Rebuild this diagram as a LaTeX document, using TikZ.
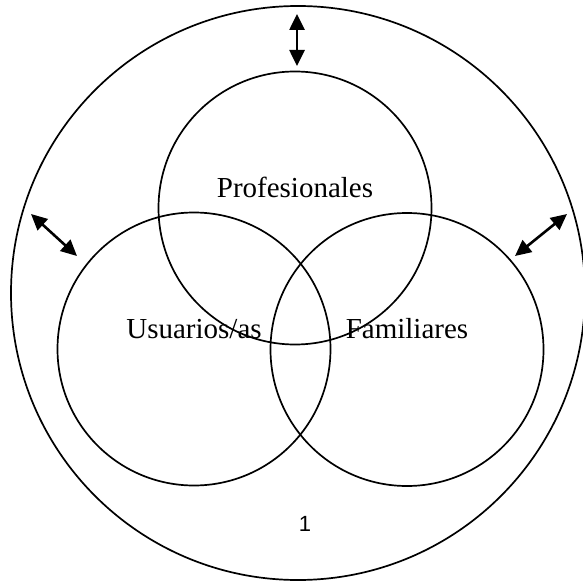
\documentclass[tikz,border=0pt]{standalone}
\usepackage{fontspec}
\setmainfont{Liberation Serif}
\newfontfamily\numfont{Liberation Sans}
\usetikzlibrary{arrows.meta}
\begin{document}
\begin{tikzpicture}[x=1pt,y=-1pt,
  ring/.style={draw=black,line width=1.7pt},
  biarrow/.style={line width=2.6pt,{Triangle[length=16pt,width=15pt]}-{Triangle[length=16pt,width=15pt]}},
  lbl/.style={anchor=base,inner sep=0pt,font=\fontsize{29}{32}\selectfont},
  numlbl/.style={anchor=base,inner sep=0pt,font=\numfont\fontsize{22}{24}\selectfont}]
\useasboundingbox (0,0) rectangle (582,585);
\draw[ring] (298,293) circle[radius=287];
\draw[ring] (295,208) circle[radius=136.5];
\draw[ring] (194,349) circle[radius=136.5];
\draw[ring] (407,349.5) circle[radius=136.5];
\node[lbl] (prof) at (295,197) {Profesionales};
\node[lbl] (usu) at (194,338) {Usuarios/as};
\node[lbl] (fam) at (407,338) {Familiares};
\node[numlbl] (one) at (305,531) {1};
\coordinate (t1) at (297,14);
\coordinate (t2) at (297,66);
\coordinate (l1) at (31,214);
\coordinate (l2) at (77,256);
\coordinate (r1) at (515,256);
\coordinate (r2) at (567,214);
\draw[biarrow] (t1) -- (t2);
\draw[biarrow] (l1) -- (l2);
\draw[biarrow] (r1) -- (r2);
\end{tikzpicture}
\end{document}
